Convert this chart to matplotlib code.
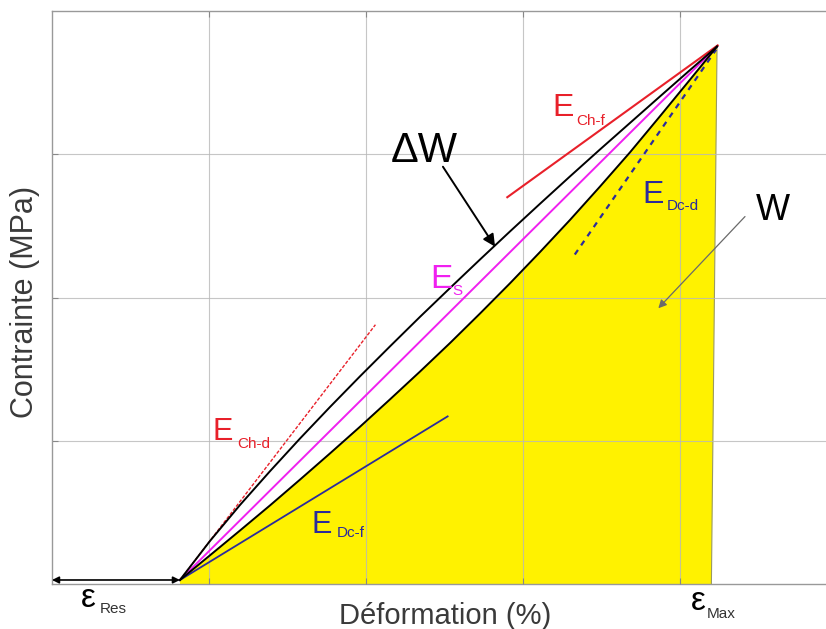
import matplotlib
matplotlib.use('Agg')
import matplotlib.pyplot as plt

plt.rcParams['font.family'] = ['Liberation Sans', 'DejaVu Sans']

# ---- data (x = strain, y = stress, arbitrary units) ----
strain = [0.815, 1.006, 1.197, 1.389, 1.580, 1.771, 1.962, 2.153, 2.344, 2.535,
          2.726, 2.917, 3.108, 3.299, 3.490, 3.682, 3.873, 4.064, 4.236]
stress_loading = [0.028, 0.300, 0.551, 0.788, 1.016, 1.236, 1.450, 1.659, 1.865, 2.066,
                  2.265, 2.461, 2.654, 2.845, 3.033, 3.219, 3.404, 3.588, 3.752]
stress_unloading = [0.028, 0.200, 0.373, 0.549, 0.729, 0.912, 1.098, 1.289, 1.483, 1.682,
                    1.888, 2.099, 2.317, 2.541, 2.774, 3.014, 3.266, 3.521, 3.752]

eps_res = 0.815
eps_max_base = 4.20

Es_x, Es_y = [0.815, 4.236], [0.028, 3.752]
Echd_x, Echd_y = [0.815, 2.06], [0.028, 1.81]
Echf_x, Echf_y = [2.90, 4.24], [2.70, 3.76]
Edcd_x, Edcd_y = [3.33, 4.23], [2.30, 3.73]
Edcf_x, Edcf_y = [0.815, 2.52], [0.028, 1.17]

grid_x = [1, 2, 3, 4]
grid_y = [1, 2, 3]

RED = '#e8202a'
BLUE = '#2b2b9c'
MAG = '#f020f0'

fig = plt.figure(figsize=(8.26, 6.29), dpi=100)
ax = fig.add_axes([52/826, 45/629, (826-52)/826, (584-11)/629])
ax.set_xlim(0, 4.93)
ax.set_ylim(0, 4.0)

# yellow area W
fx = strain + [eps_max_base, eps_res]
fy = stress_unloading + [0, 0]
ax.fill(fx, fy, color='#fff200', lw=0, zorder=1)
ax.plot([strain[-1], eps_max_base], [stress_unloading[-1], 0], color='#9a9a60', lw=0.8, zorder=1.5)

# grid
ax.set_xticks(grid_x)
ax.set_yticks(grid_y)
ax.set_xticklabels([])
ax.set_yticklabels([])
ax.set_axisbelow(False)
ax.grid(True, color='#b8b8b8', lw=0.8, alpha=0.8)
ax.tick_params(direction='in', length=4, color='#888888', top=True, right=False)
for s in ['left', 'bottom', 'top']:
    ax.spines[s].set_color('#999999')
    ax.spines[s].set_linewidth(1.0)
ax.spines['right'].set_visible(False)

# curves
ax.plot(strain, stress_loading, color='black', lw=1.4, zorder=4, solid_joinstyle='round')
ax.plot(strain, stress_unloading, color='black', lw=1.4, zorder=4, solid_joinstyle='round')
ax.plot(Es_x, Es_y, color=MAG, lw=1.4, zorder=3.5)
ax.plot(Echd_x, Echd_y, color=RED, lw=1.0, ls=(0, (2.5, 1.2)), zorder=3.6)
ax.plot(Echf_x, Echf_y, color=RED, lw=1.5, zorder=3.6)
ax.plot(Edcd_x, Edcd_y, color=BLUE, lw=1.6, ls=(0, (2.5, 2.5)), zorder=3.6)
ax.plot(Edcf_x, Edcf_y, color=BLUE, lw=1.3, zorder=3.6)

# epsilon_res double arrow
ax.annotate('', xy=(0, 0.028), xytext=(eps_res, 0.028),
            arrowprops=dict(arrowstyle='<|-|>', color='black', lw=1.2,
                            mutation_scale=10, shrinkA=0, shrinkB=0),
            annotation_clip=False, zorder=5)

# arrows for Delta W and W
ax.annotate('', xy=(2.822, 2.355), xytext=(2.49, 2.913),
            arrowprops=dict(arrowstyle='-|>', color='black', lw=1.4,
                            mutation_scale=18, shrinkA=0, shrinkB=0), zorder=6)
ax.annotate('', xy=(3.862, 1.925), xytext=(4.414, 2.565),
            arrowprops=dict(arrowstyle='-|>', color='#6a6a6a', lw=0.9,
                            mutation_scale=12, shrinkA=0, shrinkB=0), zorder=6)

def lab(x, y, main, sub, col, fs, sfs, sx, sy):
    ax.text(x, y, main, color=col, fontsize=fs, ha='left', va='baseline', zorder=7)
    ax.text(sx, sy, sub, color=col, fontsize=sfs, ha='left', va='baseline', zorder=7)

lab(3.19, 3.267, 'E', 'Ch-f', RED, 23, 11, 3.34, 3.204)
lab(1.02, 1.005, 'E', 'Ch-d', RED, 22, 11, 1.18, 0.949)
lab(2.41, 2.066, 'E', 'S', MAG, 24, 11, 2.55, 2.017)
lab(3.76, 2.660, 'E', 'Dc-d', BLUE, 23, 11, 3.915, 2.611)
lab(1.65, 0.356, 'E', 'Dc-f', BLUE, 22, 11, 1.815, 0.328)

ax.text(2.16, 2.946, '\u0394W', color='black', fontsize=30, ha='left', va='baseline', zorder=7)
ax.text(4.48, 2.541, 'W', color='black', fontsize=26, ha='left', va='baseline', zorder=7)

# epsilon labels below the axis
ax.text(0.185, -0.161, '\u03b5', color='black', fontsize=24, ha='left', va='baseline', clip_on=False)
ax.text(0.305, -0.202, 'Res', color='#333333', fontsize=11, ha='left', va='baseline', clip_on=False)
ax.text(4.07, -0.181, '\u03b5', color='black', fontsize=24, ha='left', va='baseline', clip_on=False)
ax.text(4.17, -0.237, 'Max', color='#333333', fontsize=11, ha='left', va='baseline', clip_on=False)

fig.text(445/826, 5/629, 'D\u00e9formation (%)', color='#3a3a3a', fontsize=21,
         ha='center', va='baseline')
fig.text(25/826, 1 - 302/629, 'Contrainte (MPa)', color='#3a3a3a', fontsize=22,
         ha='center', va='center', rotation=90)

fig.savefig('out.png', dpi=100)
